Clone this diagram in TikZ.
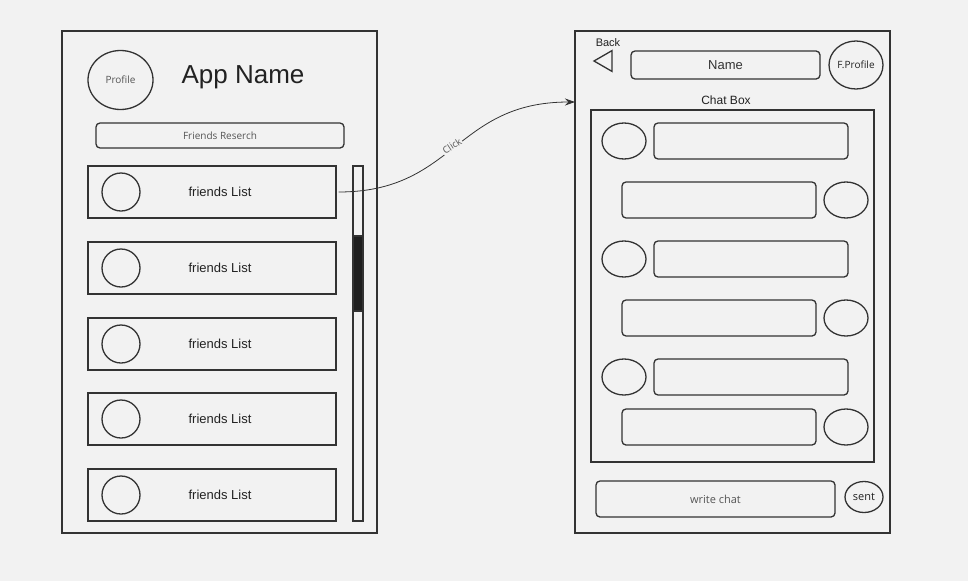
\documentclass[tikz,border=0pt]{standalone}
\usepackage{fontspec}
\setmainfont{Liberation Sans}
\newfontfamily\osans{Open Sans}
\usetikzlibrary{arrows.meta,shapes.geometric}
\definecolor{bg}{HTML}{F2F2F2}
\definecolor{ln}{HTML}{333333}
\definecolor{tx}{HTML}{222222}
\definecolor{gt}{HTML}{555555}
\tikzset{
  frame/.style={draw=ln, line width=1.3pt, inner sep=0pt},
  box/.style={draw=ln, line width=1.3pt, inner sep=0pt, text=tx},
  rbox/.style={draw=ln, line width=1.3pt, inner sep=0pt, rounded corners=4pt, text=tx},
  circ/.style={draw=ln, line width=1.3pt, ellipse, inner sep=0pt},
  lbl/.style={text=tx, inner sep=0pt},
  glbl/.style={text=gt, inner sep=0pt, font=\osans\fontsize{10}{12}\selectfont},
}
\begin{document}
\begin{tikzpicture}[x=1pt,y=-1pt]
\fill[bg] (0,0) rectangle (968,581);
\useasboundingbox (0,0) rectangle (968,581);
% left frame
\node[frame, minimum width=315pt, minimum height=502pt] (lframe) at (219.5,282) {};
\node[circ, minimum width=65pt, minimum height=59pt, glbl] (prof) at (120.5,80) {Profile};
\node[lbl, font=\fontsize{26}{30}\selectfont] (appname) at (243,77.5) {App Name};
\node[rbox, minimum width=248pt, minimum height=25pt, glbl] (search) at (220,135.5) {Friends Reserch};
\foreach \i/\y in {1/192,2/268,3/344,4/419,5/495}{
  \node[box, minimum width=248pt, minimum height=52pt] (f\i) at (212,\y) {};
  \node[circ, minimum width=38pt, minimum height=38pt] (fc\i) at (121,\y) {};
  \node[lbl, font=\fontsize{13}{15}\selectfont] (ft\i) at (220,\y) {friends List};
}
\node[box, minimum width=10pt, minimum height=355pt] (scroll) at (358,343.5) {};
\node[draw=ln, fill=black!88, line width=1.3pt, minimum width=10pt, minimum height=75pt, inner sep=0pt] (thumb) at (358,273.5) {};
% right frame
\node[frame, minimum width=315pt, minimum height=502pt] (rframe) at (732.5,282) {};
\coordinate (clickend) at (575,102);
\draw[line width=0.8pt, draw=ln, -{Stealth[length=10pt,width=7pt]}] (f1.east) ++(2,0) .. controls (455,192) and (455,102) .. (clickend);
\node[fill=bg, text=gt, inner sep=1pt, rotate=33, font=\osans\fontsize{9.5}{10}\selectfont] (clicklbl) at (452,146) {Click};
\node[draw=ln, line width=1.3pt, regular polygon, regular polygon sides=3, shape border rotate=90, minimum size=24pt, inner sep=0pt] (backtri) at (606,61) {};
\node[lbl, font=\fontsize{11}{12}\selectfont] (backtxt) at (608,43) {Back};
\node[rbox, minimum width=189pt, minimum height=28pt, font=\fontsize{13}{15}\selectfont, text=ln] (name) at (725.5,65) {Name};
\node[circ, minimum width=54pt, minimum height=48pt, font=\osans\fontsize{10}{12}\selectfont, text=tx] (fprof) at (856,65) {F.Profile};
\node[lbl, font=\fontsize{12}{14}\selectfont] (chatlbl) at (726,100) {Chat Box};
\node[box, minimum width=283pt, minimum height=352pt] (chatbox) at (732.5,286) {};
\foreach \i/\y in {1/141,3/259,5/377}{
  \node[circ, minimum width=44pt, minimum height=36pt] (mc\i) at (624,\y) {};
  \node[rbox, minimum width=194pt, minimum height=36pt] (mb\i) at (751,\y) {};
}
\foreach \i/\y in {2/200,4/318,6/427}{
  \node[rbox, minimum width=194pt, minimum height=36pt] (mb\i) at (719,\y) {};
  \node[circ, minimum width=44pt, minimum height=36pt] (mc\i) at (846,\y) {};
}
\node[rbox, minimum width=239pt, minimum height=36pt, glbl, font=\osans\fontsize{11}{13}\selectfont] (write) at (715.5,499) {write chat};
\node[circ, minimum width=38pt, minimum height=31pt, font=\osans\fontsize{11}{13}\selectfont, text=tx] (sent) at (864,497) {sent};
\end{tikzpicture}
\end{document}
